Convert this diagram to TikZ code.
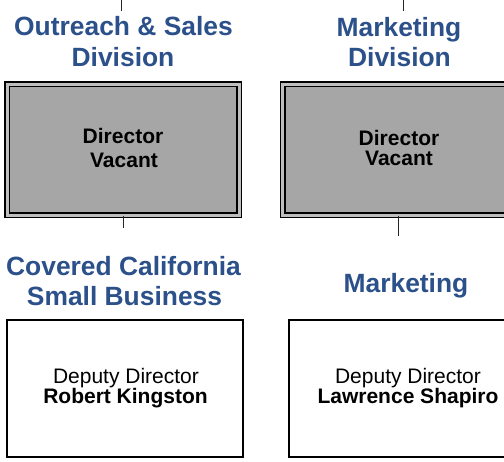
\documentclass[tikz,border=0pt]{standalone}
\usepackage{fontspec}
\setmainfont{Liberation Sans}
\definecolor{titleblue}{RGB}{43,80,138}
\definecolor{boxgrey}{RGB}{166,166,166}
\definecolor{gapgrey}{RGB}{190,190,190}
\begin{document}
\begin{tikzpicture}[x=1pt,y=-1pt,
  title/.style={font=\fontsize{26.4}{30}\selectfont\bfseries, text=titleblue, inner sep=0pt, anchor=base},
  boxtext/.style={font=\fontsize{21}{24}\selectfont, inner sep=0pt, anchor=base},
  dirbox/.style={draw=black, line width=1.5pt, double=gapgrey, double distance=3pt, fill=boxgrey, minimum width=232pt, minimum height=131pt, inner sep=0pt},
  depbox/.style={draw=black, line width=1.5pt, fill=white, minimum width=236pt, minimum height=137pt, inner sep=0pt},
  link/.style={draw=black!85, line width=1pt}]
\useasboundingbox (0,0) rectangle (504,462);
\clip (0,0) rectangle (504,462);
\fill[white] (0,0) rectangle (504,462);

% stubs from above
\coordinate (lt1) at (121,0);
\coordinate (lt2) at (121,11);
\coordinate (rt1) at (403,0);
\coordinate (rt2) at (403,11);
\draw[link] (lt1) -- (lt2);
\draw[link] (rt1) -- (rt2);

% division titles
\node[title] (lti1) at (123.5,36) {Outreach \& Sales};
\node[title] (lti2) at (123,67) {Division};
\node[title] (rti1) at (399,37) {Marketing};
\node[title] (rti2) at (399.5,67) {Division};

% director boxes
\node[dirbox] (lbox) at (123.4,150) {};
\node[dirbox] (rbox) at (398.5,150) {};
\node[boxtext, font=\fontsize{21}{24}\selectfont\bfseries] (ld1) at (123,144) {Director};
\node[boxtext, font=\fontsize{21}{24}\selectfont\bfseries] (ld2) at (124,168) {Vacant};
\node[boxtext, font=\fontsize{21}{24}\selectfont\bfseries] (rd1) at (399,146) {Director};
\node[boxtext, font=\fontsize{21}{24}\selectfont\bfseries] (rd2) at (399,166) {Vacant};

% stubs below director boxes
\coordinate (lb) at (lbox.south |- 0,228);
\coordinate (rb) at (rbox.south |- 0,236);
\draw[link] (lbox.south) -- (lb);
\draw[link] (rbox.south) -- (rb);

% unit titles
\node[title] (bti1) at (123.5,276) {Covered California};
\node[title] (bti2) at (124.5,306) {Small Business};
\node[title] (bri1) at (406,293) {Marketing};

% deputy boxes
\node[depbox] (ldep) at (125,388.5) {};
\node[depbox, minimum width=238pt] (rdep) at (408,388.5) {};
\node[boxtext] (lp1) at (126,384) {Deputy Director};
\node[boxtext, font=\fontsize{21}{24}\selectfont\bfseries] (lp2) at (125.5,404) {Robert Kingston};
\node[boxtext] (rp1) at (408,384) {Deputy Director};
\node[boxtext, font=\fontsize{21}{24}\selectfont\bfseries] (rp2) at (408,404) {Lawrence Shapiro};
\end{tikzpicture}
\end{document}
